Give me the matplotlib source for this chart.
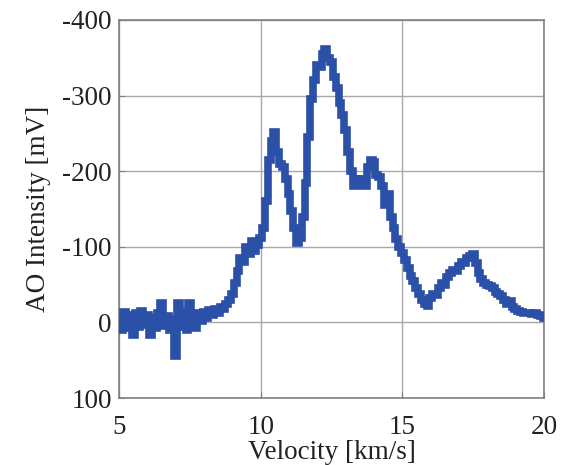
import numpy as np
import matplotlib
matplotlib.use('Agg')
import matplotlib.pyplot as plt

plt.rcParams['font.family'] = ['Liberation Serif', 'DejaVu Serif']
plt.rcParams['axes.unicode_minus'] = False

# velocity axis (km/s), one reading every 0.1
velocity = np.round(np.arange(5.0, 20.01, 0.1), 1)
# AO intensity in mV
intensity = [
    -2, 10, -14, 8, -10, 16, -12, 6, -15, 4,
    -10, 17, -6, 8, -12, -26, 5, -8, 10, -4,
    45, -26, 6, -14, 10, -26, -8, 8, -12, -2,
    -14, -6, -16, -10, -18, -12, -20, -18, -24, -30,
    -38, -52, -68, -85, -80, -100, -90, -108, -95, -103,
    -112, -125, -160, -215, -240, -252, -225, -210, -205, -190,
    -170, -148, -125, -105, -112, -140, -185, -245, -295, -320,
    -340, -338, -355, -362, -350, -345, -325, -310, -290, -275,
    -255, -225, -200, -180, -190, -182, -190, -180, -205, -215,
    -212, -195, -192, -180, -155, -170, -140, -125, -110, -100,
    -92, -82, -72, -62, -55, -45, -38, -30, -24, -22,
    -32, -38, -36, -45, -52, -50, -60, -65, -70, -68,
    -75, -80, -78, -85, -88, -90, -78, -65, -58, -52,
    -50, -48, -45, -40, -38, -35, -30, -25, -28, -20,
    -18, -15, -14, -12, -13, -12, -11, -12, -10, -8,
    -6,
]
xticks = [5, 10, 15, 20]
yticks = [-400, -300, -200, -100, 0, 100]

fig = plt.figure(figsize=(5.61, 4.65), dpi=100)
ax = fig.add_axes([0.212, 0.144, 0.758, 0.813])

ax.plot(velocity, intensity, color='#2b50a8', lw=5.5, drawstyle='steps-mid',
        solid_joinstyle='miter', zorder=3)

ax.set_xlim(5, 20)
ax.set_ylim(100, -400)
ax.set_xticks(xticks)
ax.set_yticks(yticks)
ax.grid(True, color='#a8a8a8', lw=1)
for s in ax.spines.values():
    s.set_color('#808080')
    s.set_linewidth(1.2)
ax.tick_params(direction='in', length=4, color='#808080', labelsize=19.5,
               labelcolor='#222222')
ax.tick_params(axis='x', pad=12)
ax.tick_params(axis='y', pad=5)

ax.set_xlabel('Velocity [km/s]', fontsize=19.5, color='#222222', labelpad=0)
ax.set_ylabel('AO Intensity [mV]', fontsize=19.5, color='#222222', labelpad=8)

fig.savefig('out.png', dpi=100)
